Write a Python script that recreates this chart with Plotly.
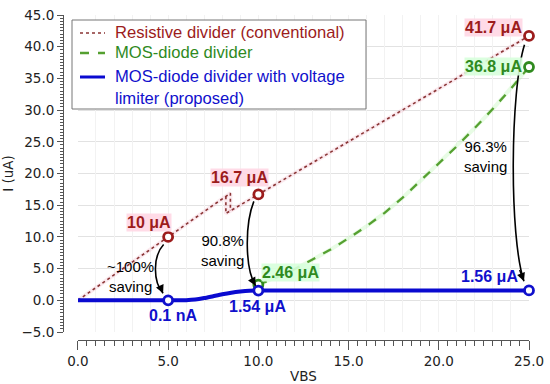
import plotly.graph_objects as go

# ---------------- data ----------------
res_x = [0, 5, 8.45, 8.45, None, 8.2, 8.2, 10, 25]
res_y = [0, 10, 16.9, 14.1, None, 16.4, 13.7, 16.7, 41.7]
res_pts_x = [5, 10, 25]
res_pts_y = [10, 16.7, 41.7]

mos_x = [10, 11, 12, 13, 14, 15, 16, 17, 18, 19, 20, 21, 22, 23, 24, 25]
mos_y = [2.46, 3.6, 4.9, 6.4, 8.0, 9.8, 11.7, 13.8, 16.2, 18.9, 21.6, 24.3, 27.2, 30.2, 33.4, 36.8]
mos_pts_x = [10, 25]
mos_pts_y = [2.46, 36.8]

lim_x = [0, 5, 5.5, 6, 6.5, 7, 7.5, 8, 8.5, 9, 9.5, 10, 15, 20, 25]
lim_y = [0, 0, 0.0, 0.02, 0.12, 0.35, 0.65, 0.95, 1.2, 1.38, 1.5, 1.54, 1.55, 1.555, 1.56]
lim_pts_x = [5, 10, 25]
lim_pts_y = [0, 1.54, 1.56]

series_names = ["Resistive divider (conventional)", "MOS-diode divider",
                "MOS-diode divider with voltage<br>limiter (proposed)"]

RED = "#9c1c1c"
RED_LINE = "#8a3535"
GREEN = "#2f8a1e"
GREEN_LINE = "#55a030"
BLUE = "#1010cc"
BLUE_LINE = "#0a0ad0"

fig = go.Figure()

# soft halos
fig.add_trace(go.Scatter(x=res_x, y=res_y, mode="lines", line=dict(color="rgba(240,170,190,0.25)", width=4),
                         showlegend=False, hoverinfo="skip"))
fig.add_trace(go.Scatter(x=mos_x, y=mos_y, mode="lines", line=dict(color="rgba(180,245,170,0.3)", width=4),
                         showlegend=False, hoverinfo="skip"))

res_line = dict(color=RED_LINE, width=1.6, dash="dot")
mos_line = dict(color=GREEN_LINE, width=2.3, dash="dash")
lim_line = dict(color=BLUE_LINE, width=4)

fig.add_trace(go.Scatter(x=res_x, y=res_y, mode="lines", line=res_line, name=series_names[0], showlegend=False))
fig.add_trace(go.Scatter(x=mos_x, y=mos_y, mode="lines", line=mos_line, name=series_names[1], showlegend=False))
fig.add_trace(go.Scatter(x=lim_x, y=lim_y, mode="lines", line=dict(lim_line, shape="spline", smoothing=0.6),
                         name=series_names[2], showlegend=False))

for px, py, col in [(res_pts_x, res_pts_y, RED), (mos_pts_x, mos_pts_y, GREEN), (lim_pts_x, lim_pts_y, BLUE)]:
    fig.add_trace(go.Scatter(x=px, y=py, mode="markers", cliponaxis=False,
                             marker=dict(symbol="circle", size=9, color="white", line=dict(color=col, width=2.8)),
                             showlegend=False, hoverinfo="skip"))

# invisible trace on overlay axis for the fine grid
fig.add_trace(go.Scatter(x=[None], y=[None], xaxis="x2", showlegend=False, hoverinfo="skip"))

# ---------------- pixel helpers for paper placement ----------------
L, R, T, B, W, H = 63, 21, 15, 44, 550, 384
def px(p):
    return (p - L) / (W - L - R)
def py(p):
    return (H - B - p) / (H - T - B)

# ---------------- legend (drawn box) ----------------
shapes = [dict(type="rect", xref="paper", yref="paper", x0=px(72), x1=px(366), y0=py(109), y1=py(20),
               line=dict(color="#777", width=1), fillcolor="white", layer="above")]
annotations = []
leg_rows = [(33, res_line, RED, series_names[0], 33),
            (53, mos_line, GREEN, series_names[1], 53),
            (77, lim_line, BLUE, series_names[2], 87)]
for ly, ln, col, name, ty in leg_rows:
    shapes.append(dict(type="line", xref="paper", yref="paper", x0=px(80), x1=px(105), y0=py(ly), y1=py(ly),
                       line=dict(color=ln["color"], width=min(ln["width"], 3), dash=ln.get("dash", "solid")),
                       layer="above"))
    annotations.append(dict(x=px(113), y=py(ty), xref="paper", yref="paper", xanchor="left", yanchor="middle",
                            text=name, showarrow=False, align="left",
                            font=dict(family="Liberation Sans, Arial", size=16.6, color=col)))

# ---------------- labels ----------------
labels = [
    ("10 μA", 3.92, 12.3, RED, "rgba(255,215,228,0.9)"),
    ("16.7 μA", 8.94, 19.3, RED, "rgba(255,215,228,0.9)"),
    ("41.7 μA", 23.03, 43.1, RED, "rgba(255,215,228,0.9)"),
    ("36.8 μA", 23.03, 36.9, GREEN, "rgba(215,255,220,0.9)"),
    ("2.46 μA", 11.8, 4.4, GREEN, "rgba(215,255,220,0.9)"),
    ("0.1 nA", 5.28, -2.4, BLUE, "rgba(0,0,0,0)"),
    ("1.54 μA", 9.95, -0.9, BLUE, "rgba(0,0,0,0)"),
    ("1.56 μA", 22.8, 3.8, BLUE, "rgba(0,0,0,0)"),
]
for t, x, y, c, bg in labels:
    annotations.append(dict(x=x, y=y, xref="x", yref="y", text=f"<b>{t}</b>", showarrow=False,
                            font=dict(family="Liberation Sans, Arial", size=16, color=c),
                            bgcolor=bg, borderpad=0))

savings = [("~100%<br>saving", 2.9, 3.8), ("90.8%<br>saving", 8.0, 7.8), ("96.3%<br>saving", 22.6, 22.7)]
for t, x, y in savings:
    annotations.append(dict(x=x, y=y, xref="x", yref="y", text=t, showarrow=False,
                            font=dict(family="Liberation Sans, Arial", size=15, color="black"),
                            align="center"))

# curved arrows
paths = [
    "M 4.75,8.8 C 4.15,7 4.15,3 4.72,1.1",
    "M 9.75,15.6 C 9.25,12 9.25,5 9.85,2.3",
    "M 24.75,40.3 C 23.95,33 23.9,10 24.72,3.0",
]
arrow_heads = [(4.72, 1.1, 4.55, 2.2), (9.85, 2.3, 9.6, 3.6), (24.72, 3.0, 24.45, 5.0)]
shapes += [dict(type="path", path=p, xref="x", yref="y", line=dict(color="black", width=1.6)) for p in paths]
for x, y, ax, ay in arrow_heads:
    annotations.append(dict(x=x, y=y, ax=ax, ay=ay, xref="x", yref="y", axref="x", ayref="y",
                            text="", showarrow=True, arrowhead=2, arrowsize=1.1, arrowwidth=1.5,
                            arrowcolor="black", standoff=0))

tickfont = dict(family="DejaVu Sans", size=13.5, color="#222")

fig.update_layout(
    width=W, height=H,
    margin=dict(l=L, r=R, t=T, b=B),
    paper_bgcolor="white", plot_bgcolor="white",
    showlegend=False,
    xaxis=dict(domain=[0.032, 1], range=[0, 25], anchor="free", position=0,
               dtick=5, tick0=0, tickformat=".1f",
               showgrid=True, gridcolor="#e2e2e2", gridwidth=1, zeroline=False,
               showline=True, linecolor="#555", linewidth=1,
               ticks="outside", ticklen=9, tickcolor="#555",
               minor=dict(dtick=0.5, ticks="outside", ticklen=5, tickcolor="#555", showgrid=False),
               tickfont=tickfont,
               title=dict(text="VBS", font=tickfont, standoff=4), automargin=False),
    xaxis2=dict(overlaying="x", matches="x", anchor="y", range=[0, 25], dtick=1,
                showgrid=True, gridcolor="#f2f2f2", showticklabels=False, ticks="",
                showline=False, zeroline=False),
    yaxis=dict(domain=[0.0246, 1], range=[-5, 45], anchor="free", position=0,
               dtick=5, tickformat=".1f",
               showgrid=True, gridcolor="#e2e2e2", zeroline=False,
               showline=True, linecolor="#555", linewidth=1,
               ticks="outside", ticklen=6, tickcolor="#555",
               minor=dict(dtick=0.5, ticks="outside", ticklen=3, tickcolor="#555", showgrid=False),
               tickfont=tickfont,
               title=dict(text="I (uA)", font=tickfont, standoff=8), automargin=False),
    annotations=annotations,
    shapes=shapes,
)

fig.write_html("out.html", config={"displayModeBar": False},
               post_script="document.body.style.margin='0px';")
